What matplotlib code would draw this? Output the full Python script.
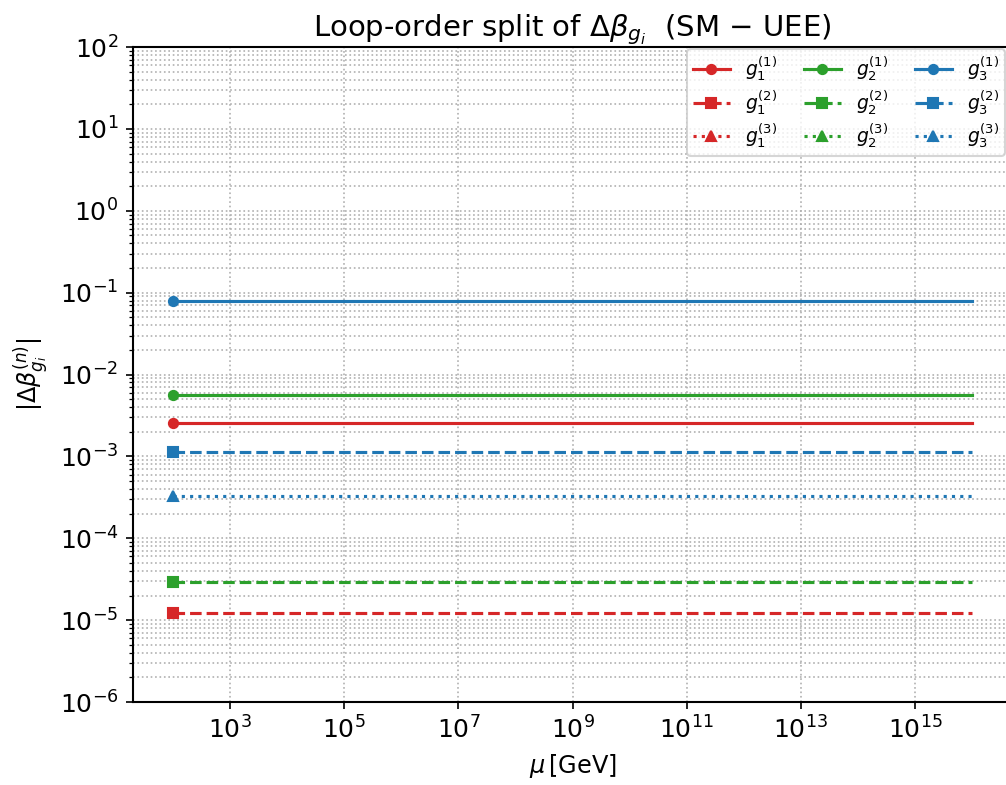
import numpy as np
import matplotlib
matplotlib.use("Agg")
import matplotlib.pyplot as plt

# escala de energia (GeV)
mu = np.logspace(2, 16, 200)

# |delta beta| por ordem de loop (constantes em mu)
# NaN = nao aparece no grafico (zero / fora da escala)
dbeta_g1 = [2.57e-3, 1.23e-5, np.nan]
dbeta_g2 = [5.6e-3, 2.94e-5, np.nan]
dbeta_g3 = [7.98e-2, 1.12e-3, 3.25e-4]

cores = {"1": "#d62728", "2": "#2ca02c", "3": "#1f77b4"}
estilos = ["-", "--", ":"]
marcadores = ["o", "s", "^"]

fig = plt.figure(figsize=(1006 / 150, 785 / 150), dpi=150)
ax = fig.add_axes([0.1322, 0.1057, 0.8738, 0.8343])

for i, vals in zip(["1", "2", "3"], [dbeta_g1, dbeta_g2, dbeta_g3]):
    for n in range(3):
        y = np.full_like(mu, vals[n])
        ax.plot(mu, y, color=cores[i], ls=estilos[n], marker=marcadores[n],
                markevery=[0], ms=4.4, lw=1.5,
                label=rf"$g_{i}^{{({n + 1})}}$")

ax.set_xscale("log")
ax.set_yscale("log")
ax.set_xlim(10 ** 1.3, 10 ** 16.7)
ax.set_ylim(1e-6, 1e2)
ax.grid(True, which="both", ls=":", color="#b0b0b0", lw=0.8)
ax.tick_params(labelsize=12)
for s in ax.spines.values():
    s.set_linewidth(1.0)

ax.set_xlabel(r"$\mu\,$[GeV]", fontsize=11.5)
ax.set_ylabel(r"$|\Delta\beta^{(n)}_{g_i}|$", fontsize=11.5)
ax.set_title(r"Loop-order split of $\Delta\beta_{g_i}$  (SM $-$ UEE)",
             fontsize=14, pad=4)

# legenda: colunas = acoplamento, linhas = ordem do loop
h, l = ax.get_legend_handles_labels()
ax.legend(h, l, ncol=3, fontsize=9, loc="upper right",
          bbox_to_anchor=(1005 / 1006, 1 - 49 / 785),
          bbox_transform=fig.transFigure, borderaxespad=0,
          labelspacing=0.25, columnspacing=1.4, borderpad=0.3)

fig.savefig("out.png", dpi=150)
